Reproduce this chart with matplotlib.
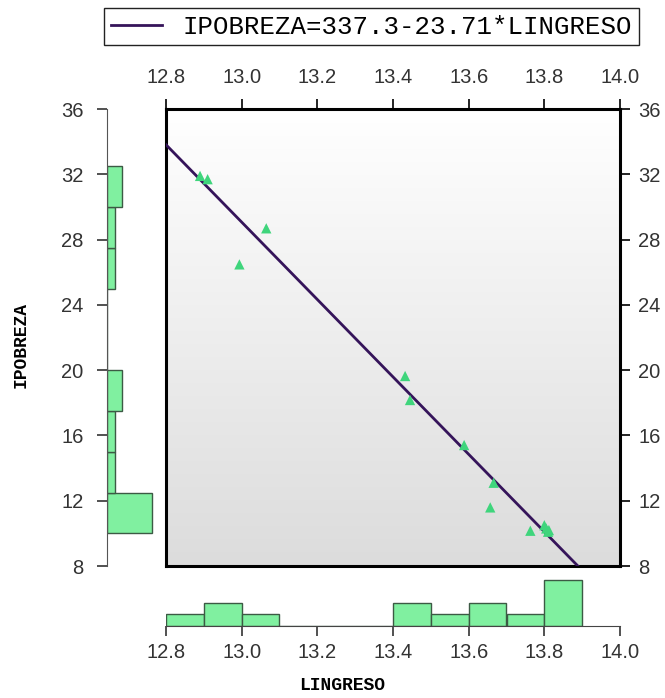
import matplotlib

matplotlib.use("Agg")
import matplotlib.pyplot as plt
import numpy as np
from matplotlib.colors import LinearSegmentedColormap

# datos
lingreso = [12.89, 12.91, 12.994, 13.065, 13.432, 13.445, 13.588,
            13.666, 13.657, 13.763, 13.800, 13.805, 13.810, 13.812]
ipobreza = [31.9, 31.7, 26.48, 28.69, 19.64, 18.17, 15.41,
            13.1, 11.59, 10.16, 10.5, 10.3, 10.1, 10.2]
intercepto = 337.3
pendiente = -23.71
x_ticks = [12.8, 13.0, 13.2, 13.4, 13.6, 13.8, 14.0]
y_ticks = [8, 12, 16, 20, 24, 28, 32, 36]
x_bins = np.round(np.arange(12.8, 13.95, 0.1), 2)
y_bins = np.arange(10.0, 32.6, 2.5)

W, H = 665, 698
TICK_FONT = ["Liberation Sans", "DejaVu Sans"]
TS = 14.5
verde = "#80f0a0"
borde_hist = "#3c5a44"

fig = plt.figure(figsize=(W / 100, H / 100), dpi=100)


def rect(l, t, r, b):
    return [l / W, 1 - b / H, (r - l) / W, (b - t) / H]


# --- gráfico principal
ax = fig.add_axes(rect(166, 109, 620, 566))
ax.set_xlim(12.8, 14.0)
ax.set_ylim(8, 36)
fondo = LinearSegmentedColormap.from_list("fondo", ["#ffffff", "#dcdcdc"])
ax.imshow(np.linspace(0, 1, 256).reshape(-1, 1), cmap=fondo, aspect="auto",
          extent=(0, 1, 0, 1), transform=ax.transAxes, zorder=0)

xl = np.linspace(12.8, (8 - intercepto) / pendiente, 50)
(linea,) = ax.plot(xl, intercepto + pendiente * xl, color="#35145a", lw=2.0,
                   zorder=3, label=f"IPOBREZA={intercepto}{pendiente}*LINGRESO")
ax.scatter(lingreso, ipobreza, marker="^", s=55, color="#3fd57c",
           edgecolors="none", zorder=4)

for s in ax.spines.values():
    s.set_linewidth(2.2)
ax.set_xticks(x_ticks)
ax.set_yticks(y_ticks)
ax.tick_params(axis="x", bottom=False, labelbottom=False, top=True, labeltop=True,
               direction="out", length=7, width=1.2, pad=9, labelsize=TS,
               labelcolor="#333333")
ax.tick_params(axis="y", left=False, labelleft=False, right=True, labelright=True,
               direction="out", length=7, width=1.2, pad=6, labelsize=TS,
               labelcolor="#333333")
ax.set_xticklabels([f"{v:.1f}" for v in x_ticks], family=TICK_FONT)
ax.set_yticklabels([str(v) for v in y_ticks], family=TICK_FONT)

# --- histograma izquierdo (IPOBREZA)
axl = fig.add_axes(rect(107, 109, 170, 566))
axl.hist(ipobreza, bins=y_bins, orientation="horizontal", color=verde,
         edgecolor=borde_hist, linewidth=1.0)
axl.set_xlim(0, 63 / 7.5)
axl.set_ylim(8, 36)
axl.set_facecolor("none")
for k in ("top", "right", "bottom"):
    axl.spines[k].set_visible(False)
axl.spines["left"].set_color("#555555")
axl.set_xticks([])
axl.set_yticks(y_ticks)
axl.set_yticklabels([str(v) for v in y_ticks], family=TICK_FONT)
axl.tick_params(axis="y", length=7, width=1.2, color="#333333", pad=10,
                labelsize=TS, labelcolor="#333333")
axl.set_ylabel("IPOBREZA", family="Liberation Mono", fontweight="bold",
               fontsize=13)
axl.yaxis.set_label_coords((30 - 107) / 63, (566 - 345) / 457)

# --- histograma inferior (LINGRESO)
axb = fig.add_axes(rect(166, 576, 620, 626))
axb.hist(lingreso, bins=x_bins, color=verde, edgecolor=borde_hist, linewidth=1.0)
axb.set_xlim(12.8, 14.0)
axb.set_ylim(0, 50 / 11.6)
axb.set_facecolor("none")
for k in ("top", "right", "left"):
    axb.spines[k].set_visible(False)
axb.spines["bottom"].set_color("#444444")
axb.set_yticks([])
axb.set_xticks(x_ticks)
axb.set_xticklabels([f"{v:.1f}" for v in x_ticks], family=TICK_FONT)
axb.tick_params(axis="x", length=7, width=1.2, color="#333333", pad=5,
                labelsize=TS, labelcolor="#333333")
axb.set_xlabel("LINGRESO", family="Liberation Mono", fontweight="bold",
               fontsize=13)
axb.xaxis.set_label_coords((342 - 166) / 454, -(677 - 626) / 50)

# --- leyenda
fig.legend(handles=[linea], loc="center", bbox_to_anchor=(371.5 / W, 1 - 26.5 / H),
           bbox_transform=fig.transFigure, fancybox=False, framealpha=1,
           edgecolor="#222222", handlelength=2.0,
           prop={"family": "Liberation Mono", "size": 18.5},
           borderpad=0.25, handletextpad=0.8)

fig.savefig("out.png", dpi=100)
